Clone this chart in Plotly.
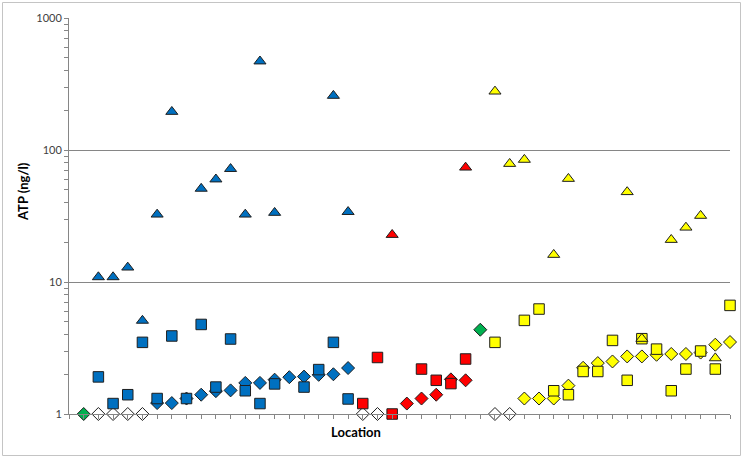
import plotly.graph_objects as go

# ---- data (location index, ATP ng/l) ----
white_dia_x = [2, 3, 4, 5, 20, 21, 29, 30]
white_dia_y = [1.0, 1.0, 1.0, 1.0, 1.0, 1.0, 1.0, 1.0]

green_dia_x = [1, 28]
green_dia_y = [1.0, 4.35]

blue_dia_x = [6, 7, 8, 9, 10, 11, 12, 13, 14, 15, 16, 17, 18, 19]
blue_dia_y = [1.21, 1.21, 1.31, 1.40, 1.49, 1.51, 1.72, 1.72, 1.82, 1.90, 1.92, 1.98, 2.0, 2.23]

blue_sq_x = [2, 3, 4, 5, 6, 7, 8, 9, 10, 11, 12, 13, 14, 16, 17, 18, 19]
blue_sq_y = [1.91, 1.2, 1.4, 3.49, 1.31, 3.9, 1.31, 4.77, 1.6, 3.7, 1.5, 1.2, 1.69, 1.6, 2.17, 3.49, 1.3]

blue_tri_x = [2, 3, 4, 5, 6, 7, 9, 10, 11, 12, 13, 14, 18, 19]
blue_tri_y = [10.9, 10.9, 12.9, 5.1, 32.5, 195, 51, 60, 72, 32.5, 470, 33.5, 258, 34]

red_dia_x = [23, 24, 25, 26, 27]
red_dia_y = [1.2, 1.31, 1.40, 1.83, 1.80]

red_sq_x = [20, 21, 22, 24, 25, 26, 27]
red_sq_y = [1.2, 2.68, 1.0, 2.19, 1.8, 1.70, 2.61]

red_tri_x = [22, 27]
red_tri_y = [22.8, 73.8]

yel_dia_x = [31, 32, 33, 34, 35, 36, 37, 38, 39, 40, 41, 42, 43, 44, 45]
yel_dia_y = [1.31, 1.31, 1.31, 1.64, 2.24, 2.43, 2.5, 2.73, 2.73, 2.81, 2.85, 2.85, 2.92, 3.35, 3.51]

yel_sq_x = [29, 31, 32, 33, 34, 35, 36, 37, 38, 39, 40, 41, 42, 43, 44, 45]
yel_sq_y = [3.49, 5.12, 6.24, 1.5, 1.4, 2.1, 2.1, 3.61, 1.8, 3.72, 3.1, 1.5, 2.19, 3.0, 2.19, 6.65]

yel_tri_x = [29, 30, 31, 33, 34, 38, 39, 41, 42, 43, 44]
yel_tri_y = [278, 78.7, 84.5, 16.1, 60.6, 48.1, 3.72, 20.9, 25.9, 31.8, 2.65]

y_ticks = [1, 10, 100, 1000]
y_minor = [2, 3, 4, 5, 6, 7, 8, 9, 20, 30, 40, 50, 60, 70, 80, 90,
           200, 300, 400, 500, 600, 700, 800, 900]

BLUE = "#0070C0"
RED = "#FF0000"
YELLOW = "#FFFF00"
GREEN = "#00B050"
EDGE = "#1e1e1e"

fig = go.Figure()


def add(x, y, color, symbol, size):
    fig.add_trace(go.Scatter(
        x=x, y=y, mode="markers", cliponaxis=False, showlegend=False,
        marker=dict(symbol=symbol, size=size, color=color,
                    line=dict(color=EDGE, width=1)),
    ))


# draw order: diamonds, then squares, then triangles
add(white_dia_x, white_dia_y, "#FFFFFF", "diamond", 10)
add(green_dia_x, green_dia_y, GREEN, "diamond", 10)
add(blue_dia_x, blue_dia_y, BLUE, "diamond", 10)
add(red_dia_x, red_dia_y, RED, "diamond", 10)
add(yel_dia_x, yel_dia_y, YELLOW, "diamond", 10)
add(blue_sq_x, blue_sq_y, BLUE, "square", 10.5)
add(red_sq_x, red_sq_y, RED, "square", 10.5)
add(yel_sq_x, yel_sq_y, YELLOW, "square", 10.5)
add(blue_tri_x, blue_tri_y, BLUE, "triangle-up", 10.5)
add(red_tri_x, red_tri_y, RED, "triangle-up", 10.5)
add(yel_tri_x, yel_tri_y, YELLOW, "triangle-up", 10.5)

L, R, T, B = 69, 13, 18, 46
W, H = 743, 460
pw, ph = W - L - R, H - T - B


def px_x(p):
    return (p - L) / pw


def px_y(p):
    return (H - B - p) / ph


fig.update_layout(
    width=W, height=H,
    margin=dict(l=L, r=R, t=T, b=B),
    paper_bgcolor="white", plot_bgcolor="white",
    font=dict(family="Lato, Open Sans, sans-serif", color="#404040"),
    xaxis=dict(
        range=[0, 45], tickmode="linear", tick0=0, dtick=1,
        showticklabels=False, ticks="outside", ticklen=4, tickcolor="#868686",
        showline=True, linecolor="#868686", linewidth=1,
        showgrid=False, zeroline=False, fixedrange=True,
    ),
    yaxis=dict(
        type="log", range=[0, 3],
        tickmode="array", tickvals=y_ticks, ticktext=[str(v) for v in y_ticks],
        ticks="outside", ticklen=4, tickcolor="#868686",
        tickfont=dict(size=11, color="#404040"),
        showline=True, linecolor="#868686", linewidth=1,
        showgrid=True, gridcolor="#868686", gridwidth=1,
        zeroline=False,
        minor=dict(tickmode="array", tickvals=y_minor, ticks="outside",
                   ticklen=4, tickcolor="#868686", showgrid=False),
    ),
    shapes=[dict(type="rect", xref="paper", yref="paper",
                 x0=px_x(2.5), x1=px_x(740.5), y0=px_y(455.5), y1=px_y(2.5),
                 line=dict(color="#c4c4c4", width=1), layer="below")],
    annotations=[
        dict(text="<b>Location</b>", xref="paper", yref="paper",
             x=px_x(356), y=px_y(432), showarrow=False,
             font=dict(size=13, color="#000000"), xanchor="center", yanchor="middle"),
        dict(text="<b>ATP (ng/l)</b>", xref="paper", yref="paper",
             x=px_x(23), y=px_y(192), showarrow=False, textangle=-90,
             font=dict(size=13, color="#000000"), xanchor="center", yanchor="middle"),
    ],
)

fig.write_html("out.html")
